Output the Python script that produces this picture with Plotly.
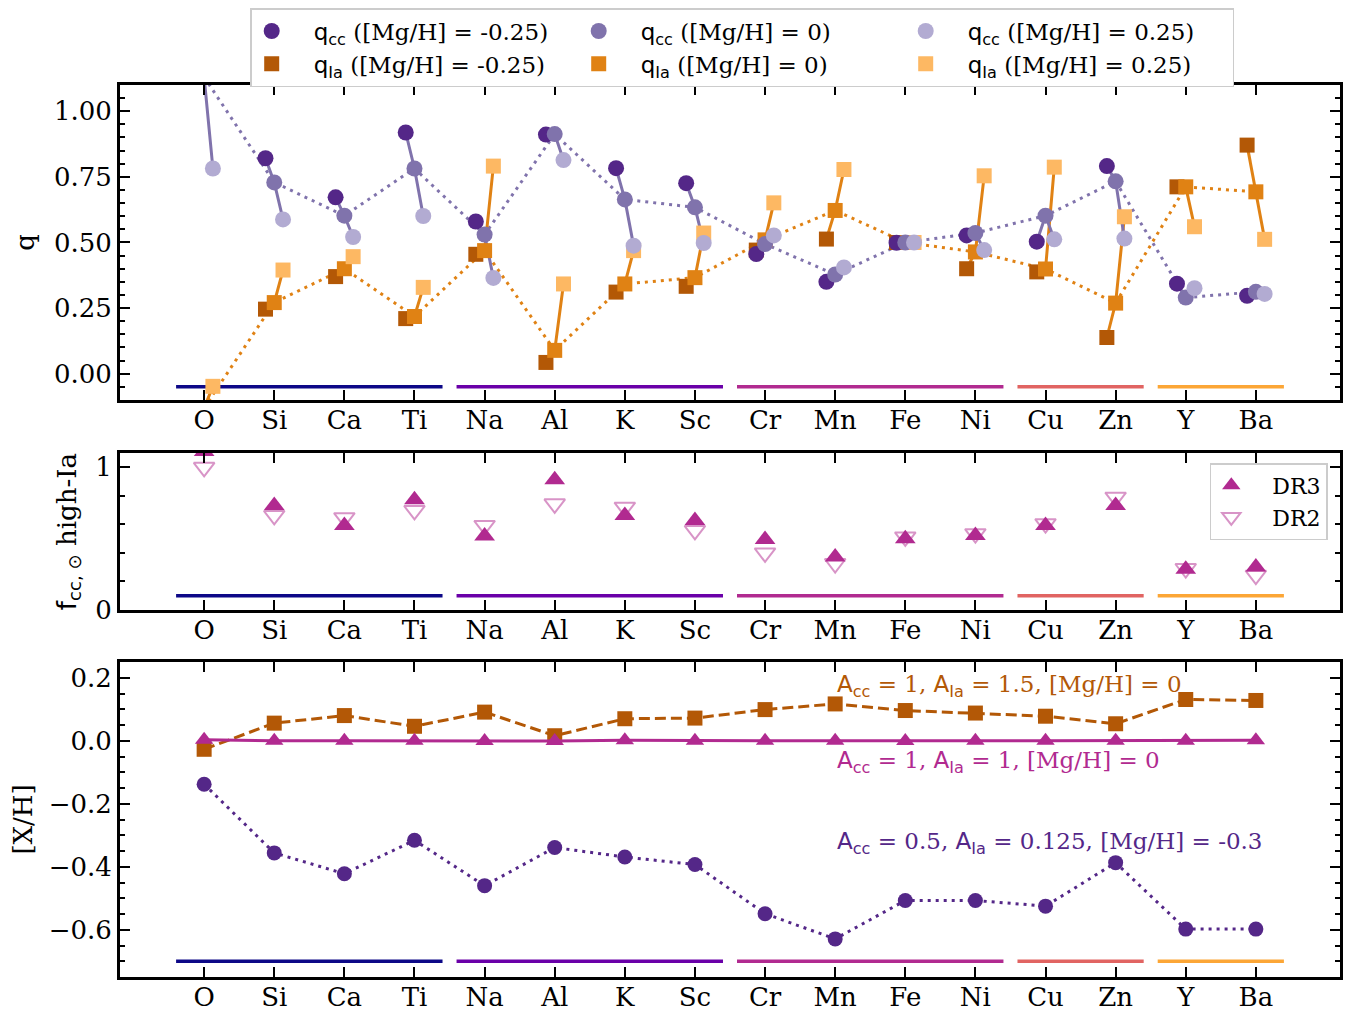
import plotly.graph_objects as go

# ---------------- data ----------------
elements = ["O", "Si", "Ca", "Ti", "Na", "Al", "K", "Sc", "Cr", "Mn", "Fe", "Ni", "Cu", "Zn", "Y", "Ba"]

qcc_lo = [1.35, 0.821, 0.672, 0.919, 0.580, 0.911, 0.783, 0.726, 0.456, 0.350, 0.499, 0.527, 0.503, 0.791, 0.343, 0.297]
qcc_0 = [1.13, 0.729, 0.602, 0.782, 0.530, 0.913, 0.664, 0.634, 0.494, 0.378, 0.500, 0.536, 0.602, 0.733, 0.290, 0.312]
qcc_hi = [0.782, 0.588, 0.521, 0.601, 0.365, 0.814, 0.488, 0.498, 0.527, 0.405, 0.500, 0.471, 0.512, 0.515, 0.326, 0.304]

qia_lo = [-0.25, 0.246, 0.370, 0.210, 0.455, 0.043, 0.311, 0.333, 0.471, 0.513, 0.500, 0.400, 0.388, 0.138, 0.712, 0.871]
qia_0 = [-0.13, 0.271, 0.400, 0.218, 0.469, 0.089, 0.342, 0.366, 0.510, 0.622, 0.500, 0.464, 0.399, 0.269, 0.712, 0.693]
qia_hi = [-0.048, 0.395, 0.446, 0.329, 0.791, 0.342, 0.469, 0.536, 0.651, 0.778, 0.500, 0.754, 0.787, 0.598, 0.560, 0.512]

fcc_dr3 = [1.11, 0.733, 0.593, 0.772, 0.519, 0.912, 0.663, 0.628, 0.495, 0.372, 0.500, 0.523, 0.593, 0.733, 0.286, 0.302]
fcc_dr2 = [1.00, 0.663, 0.647, 0.698, 0.593, 0.744, 0.721, 0.558, 0.400, 0.326, 0.512, 0.535, 0.605, 0.791, 0.291, 0.244]

xh_high = [-0.027, 0.056, 0.080, 0.046, 0.091, 0.016, 0.070, 0.072, 0.099, 0.117, 0.096, 0.088, 0.078, 0.054, 0.131, 0.128]
xh_solar = [0.003, 0.0, 0.0, 0.0, -0.001, -0.001, 0.002, 0.0, 0.0, 0.0, -0.001, 0.0, 0.0, 0.0, 0.0, 0.002]
xh_low = [-0.138, -0.356, -0.422, -0.316, -0.460, -0.339, -0.369, -0.393, -0.549, -0.629, -0.507, -0.507, -0.525, -0.387, -0.598, -0.598]

group_sizes = [4, 4, 4, 2, 2]
group_colors = ["#0d0887", "#6a00a8", "#b12a90", "#e16462", "#fca636"]

# ---------------- styles ----------------
CC = ["#542788", "#8073ac", "#b2abd2"]
IA = ["#b35806", "#e08214", "#fdb863"]
MAG = "#b12a90"
SERIF = "DejaVu Serif"
SANS = "DejaVu Sans"
DOT = "3px,5px"
OFF = 0.125
TICK_FS = 26
PAD = "\u00a0\u00a0\u00a0"

xi = list(range(len(elements)))

fig = go.Figure()

# group bars in each panel
group_y = {("x", "y"): -0.05, ("x2", "y2"): 0.1, ("x3", "y3"): -0.7}
for (xa, ya), gy in group_y.items():
    start = 0
    for n, col in zip(group_sizes, group_colors):
        fig.add_trace(go.Scatter(x=[start - 0.4, start + n - 1 + 0.4], y=[gy, gy], mode="lines",
                                 line=dict(color=col, width=3.5), showlegend=False,
                                 xaxis=xa, yaxis=ya, hoverinfo="skip"))
        start += n


def triplets(lo, mid, hi):
    xs, ys = [], []
    for i in xi:
        xs += [i - OFF, i, i + OFF, None]
        ys += [lo[i], mid[i], hi[i], None]
    return xs, ys


# ---- top panel lines ----
fig.add_trace(go.Scatter(x=xi, y=qia_0, mode="lines", line=dict(color=IA[1], width=3, dash=DOT),
                         showlegend=False, xaxis="x", yaxis="y"))
fig.add_trace(go.Scatter(x=xi, y=qcc_0, mode="lines", line=dict(color=CC[1], width=3, dash=DOT),
                         showlegend=False, xaxis="x", yaxis="y"))
tx, ty = triplets(qia_lo, qia_0, qia_hi)
fig.add_trace(go.Scatter(x=tx, y=ty, mode="lines", line=dict(color=IA[1], width=3),
                         showlegend=False, xaxis="x", yaxis="y", connectgaps=False))
tx, ty = triplets(qcc_lo, qcc_0, qcc_hi)
fig.add_trace(go.Scatter(x=tx, y=ty, mode="lines", line=dict(color=CC[1], width=3),
                         showlegend=False, xaxis="x", yaxis="y", connectgaps=False))

q_cc = f'<span style="font-family:{SANS}">q<sub>cc</sub></span>'
q_ia = f'<span style="font-family:{SANS}">q<sub>Ia</sub></span>'
labels = ["-0.25", "0", "0.25"]
offsets = [-OFF, 0, OFF]

for k, (vals, lab, off) in enumerate(zip([qia_lo, qia_0, qia_hi], labels, offsets)):
    fig.add_trace(go.Scatter(x=[i + off for i in xi], y=vals, mode="markers",
                             marker=dict(symbol="square", size=15, color=IA[k], line=dict(width=0)),
                             name=f"{PAD}{q_ia} ([Mg/H] = {lab})", legendrank=4 + k,
                             xaxis="x", yaxis="y", legend="legend"))
for k, (vals, lab, off) in enumerate(zip([qcc_lo, qcc_0, qcc_hi], labels, offsets)):
    fig.add_trace(go.Scatter(x=[i + off for i in xi], y=vals, mode="markers",
                             marker=dict(symbol="circle", size=16, color=CC[k], line=dict(width=0)),
                             name=f"{PAD}{q_cc} ([Mg/H] = {lab})", legendrank=1 + k,
                             xaxis="x", yaxis="y", legend="legend"))

# ---- middle panel ----
fig.add_trace(go.Scatter(x=xi, y=fcc_dr2, mode="markers", name=f"{PAD}DR2",
                         marker=dict(symbol="triangle-down-open", size=18, color="rgba(177,42,144,0.5)",
                                     line=dict(width=2)),
                         xaxis="x2", yaxis="y2", legend="legend2", legendrank=2))
fig.add_trace(go.Scatter(x=xi, y=fcc_dr3, mode="markers", name=f"{PAD}DR3",
                         marker=dict(symbol="triangle-up", size=18, color=MAG, line=dict(width=0)),
                         xaxis="x2", yaxis="y2", legend="legend2", legendrank=1))

# ---- bottom panel ----
fig.add_trace(go.Scatter(x=xi, y=xh_high, mode="lines+markers",
                         line=dict(color=IA[0], width=3, dash="11px,5px"),
                         marker=dict(symbol="square", size=15, color=IA[0]),
                         showlegend=False, xaxis="x3", yaxis="y3"))
fig.add_trace(go.Scatter(x=xi, y=xh_solar, mode="lines+markers",
                         line=dict(color=MAG, width=3),
                         marker=dict(symbol="triangle-up", size=16, color=MAG),
                         showlegend=False, xaxis="x3", yaxis="y3"))
fig.add_trace(go.Scatter(x=xi, y=xh_low, mode="lines+markers",
                         line=dict(color=CC[0], width=3, dash=DOT),
                         marker=dict(symbol="circle", size=15, color=CC[0]),
                         showlegend=False, xaxis="x3", yaxis="y3"))

A_cc = f'<span style="font-family:{SANS}">A<sub>cc</sub></span>'
A_ia = f'<span style="font-family:{SANS}">A<sub>Ia</sub></span>'
ann = [
    (f"{A_cc} = 1, {A_ia} = 1.5, [Mg/H] = 0", 0.175, IA[0]),
    (f"{A_cc} = 1, {A_ia} = 1, [Mg/H] = 0", -0.067, MAG),
    (f"{A_cc} = 0.5, {A_ia} = 0.125, [Mg/H] = -0.3", -0.325, CC[0]),
]
for text, yy, col in ann:
    fig.add_annotation(x=9, y=yy, xref="x3", yref="y3", text=text, showarrow=False,
                       xanchor="left", yanchor="middle", font=dict(family=SERIF, size=23, color=col))

# ---------------- axes ----------------
def base_axis():
    return dict(showline=True, linecolor="black", linewidth=3, mirror="allticks",
                ticks="inside", ticklen=10, tickwidth=2, tickcolor="black",
                tickfont=dict(family=SERIF, size=TICK_FS, color="black"),
                showgrid=False, zeroline=False, automargin=False)


def xaxis(anchor):
    d = base_axis()
    d.update(range=[-1.2, 16.2], tickmode="array", tickvals=xi, ticktext=elements, anchor=anchor,
             domain=[0, 1], ticklabelstandoff=-5)
    return d


def yaxis(anchor, domain, rng, dtick, fmt, mdt, title):
    d = base_axis()
    d.update(range=rng, domain=domain, anchor=anchor, tickmode="linear", tick0=0, dtick=dtick,
             tickformat=fmt,
             minor=dict(ticks="inside", ticklen=5, tickwidth=1.5, tickcolor="black", dtick=mdt, tick0=0,
                        showgrid=False),
             title=dict(text=title, font=dict(family=SERIF, size=26, color="black"), standoff=12))
    return d


# the page adds an 8px body margin, so the figure is made 8px smaller and shifted
fig.update_layout(
    width=1355, height=1006,
    margin=dict(l=112, r=23, t=77, b=37, autoexpand=False),
    plot_bgcolor="white", paper_bgcolor="white",
    xaxis=xaxis("y"),
    xaxis2=xaxis("y2"),
    xaxis3=xaxis("y3"),
    yaxis=yaxis("x", [0.6469, 1.0], [-0.1, 1.1], 0.25, ".2f", 0.05, "q"),
    yaxis2=yaxis("x2", [0.4114, 0.5874], [0, 1.1], 1, "d", 0.2,
                 f'<span style="font-family:{SANS}">f<sub>cc, ⊙</sub></span> high-Ia'),
    yaxis3=yaxis("x3", [0.0, 0.3531], [-0.75, 0.25], 0.2, ".1f", 0.05, "[X/H]"),
    legend=dict(orientation="h", x=0.51, xanchor="center", y=1.0863, yanchor="top",
                bgcolor="white", bordercolor="#cccccc", borderwidth=1.5,
                font=dict(family=SERIF, size=23, color="black"),
                entrywidth=282, entrywidthmode="pixels", traceorder="normal"),
    legend2=dict(x=0.99, xanchor="right", y=0.5762, yanchor="top",
                 bgcolor="white", bordercolor="#cccccc", borderwidth=1.5,
                 font=dict(family=SERIF, size=22, color="black")),
)

fig.write_html("out.html")
